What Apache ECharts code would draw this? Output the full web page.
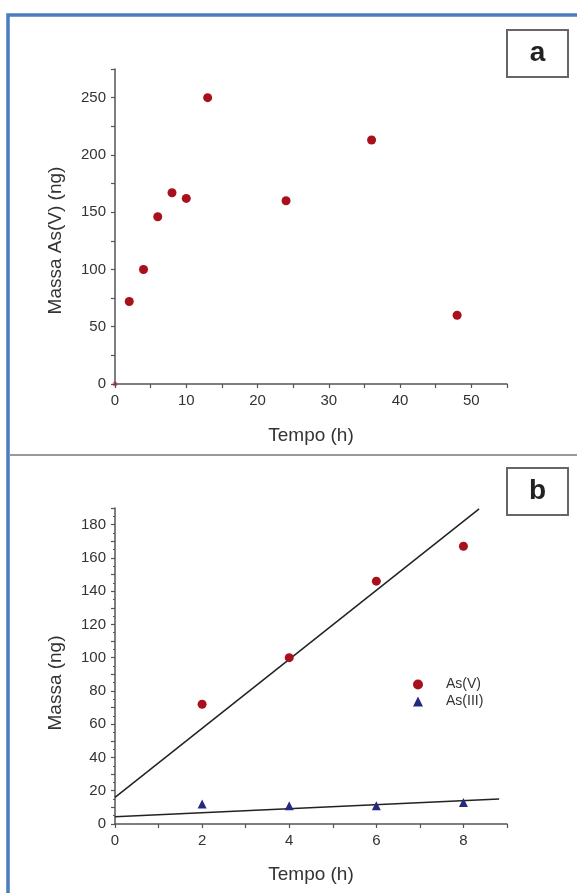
<!DOCTYPE html>
<html>
<head>
<meta charset="utf-8">
<script src="https://cdn.jsdelivr.net/npm/echarts@6/dist/echarts.min.js"></script>
<style>
html,body{margin:0;padding:0;background:#fff;}
#c{width:577px;height:893px;}
</style>
</head>
<body>
<div id="c"></div>
<script>
// ---- Data ----
// Panel a: mass of As(V) vs time
const timeA = [0, 2, 4, 6, 8, 10, 13, 24, 36, 48];
const massAsV_A = [0, 72, 100, 146, 167, 162, 250, 160, 213, 60];

// Panel b: first 8 hours
const timeB = [2, 4, 6, 8];
const massAsV_B = [72, 100, 146, 167];
const massAsIII_B = [12, 11, 11, 13];

// Fitted lines (end points)
const fitAsV_x = [0, 8.36];
const fitAsV_y = [16, 189.5];
const fitAsIII_x = [0, 8.82];
const fitAsIII_y = [4.3, 15.0];

const panelLabels = ['a', 'b'];
const seriesNames = ['As(V)', 'As(III)'];

const zip = (xs, ys) => xs.map((x, i) => [x, ys[i]]);

const FONT = '"Liberation Sans", Arial, sans-serif';
const TXT = '#333';
const AXC = '#555';
const RED = '#a8101c';
const BLUE = '#262a7e';

function xAxis(gridIndex, max, interval, labelEvery, name, gap) {
  return {
    type: 'value', gridIndex, min: 0, max, interval,
    name, nameLocation: 'middle', nameGap: gap,
    nameTextStyle: {fontFamily: FONT, fontSize: 19, color: TXT},
    axisLine: {show: true, onZero: false, lineStyle: {color: AXC, width: 1.5}},
    axisTick: {show: true, inside: false, length: 4, lineStyle: {color: AXC, width: 1.2}},
    axisLabel: {
      fontFamily: FONT, fontSize: 15, color: TXT, margin: 9,
      formatter: v => (Math.abs(v % labelEvery) < 1e-9 ? String(v) : '')
    },
    splitLine: {show: false}
  };
}
function yAxis(gridIndex, max, interval, labelEvery, name, gap, shift, minor) {
  return {
    type: 'value', gridIndex, min: 0, max, interval,
    name, nameLocation: 'middle', nameGap: gap, nameRotate: 90,
    nameTextStyle: {fontFamily: FONT, fontSize: 19, color: TXT, padding: [0, shift, 0, 0]},
    axisLine: {show: true, onZero: false, lineStyle: {color: AXC, width: 1.5}},
    axisTick: {show: true, inside: false, length: 4, lineStyle: {color: AXC, width: 1.2}},
    minorTick: {show: !!minor, splitNumber: minor || 2, length: 2, lineStyle: {color: AXC, width: 1}},
    axisLabel: {
      fontFamily: FONT, fontSize: 15, color: TXT, margin: 9,
      formatter: v => (Math.abs(v % labelEvery) < 1e-9 ? String(v) : '')
    },
    splitLine: {show: false}
  };
}

// the origin point of panel a is barely visible in the reference (sits on the axes)
const dataA = zip(timeA, massAsV_A).map(p =>
  (p[0] === 0 && p[1] === 0) ? {value: p, symbolSize: 5, itemStyle: {opacity: 0.45}} : p);

const chart = echarts.init(document.getElementById('c'), null, {renderer: 'canvas'});

const option = {
  backgroundColor: '#fff',
  animation: false,
  grid: [
    {left: 115, right: 70, top: 69, bottom: 509},
    {left: 115, right: 70, top: 508, bottom: 69}
  ],
  xAxis: [
    xAxis(0, 55, 5, 10, 'Tempo (h)', 42),
    xAxis(1, 9, 1, 2, 'Tempo (h)', 41)
  ],
  yAxis: [
    yAxis(0, 275, 25, 50, 'Massa As(V) (ng)', 50, 28, 0),
    yAxis(1, 190, 10, 20, 'Massa (ng)', 50, 34, 2)
  ],
  legend: {
    show: true,
    data: [
      {name: seriesNames[0], icon: 'circle'},
      {name: seriesNames[1], icon: 'triangle'}
    ],
    orient: 'vertical',
    left: 413, top: 677,
    itemWidth: 10, itemHeight: 10, itemGap: 2,
    padding: 0,
    textStyle: {fontFamily: FONT, fontSize: 14, color: TXT, padding: [0, 0, 0, 18], lineHeight: 15}
  },
  series: [
    {
      name: 'As(V) a', type: 'scatter', xAxisIndex: 0, yAxisIndex: 0,
      data: dataA, symbol: 'circle', symbolSize: 9,
      itemStyle: {color: RED, opacity: 1}
    },
    {
      name: 'fitV', type: 'line', xAxisIndex: 1, yAxisIndex: 1,
      data: zip(fitAsV_x, fitAsV_y), showSymbol: false, symbol: 'none',
      lineStyle: {color: '#222', width: 1.5}
    },
    {
      name: 'fitIII', type: 'line', xAxisIndex: 1, yAxisIndex: 1,
      data: zip(fitAsIII_x, fitAsIII_y), showSymbol: false, symbol: 'none',
      lineStyle: {color: '#222', width: 1.5}
    },
    {
      name: seriesNames[0], type: 'scatter', xAxisIndex: 1, yAxisIndex: 1,
      data: zip(timeB, massAsV_B), symbol: 'circle', symbolSize: 9,
      itemStyle: {color: RED, opacity: 1}, z: 5
    },
    {
      name: seriesNames[1], type: 'scatter', xAxisIndex: 1, yAxisIndex: 1,
      data: zip(timeB, massAsIII_B), symbol: 'triangle', symbolSize: 9,
      itemStyle: {color: BLUE, opacity: 1}, z: 5
    }
  ],
  graphic: [
    {type: 'rect', shape: {x: 8, y: 15, width: 640, height: 940},
     style: {fill: 'none', stroke: '#4a7dbd', lineWidth: 3.5}, z: 100},
    {type: 'line', shape: {x1: 10, y1: 455, x2: 577, y2: 455},
     style: {stroke: '#999', lineWidth: 2}, z: 100},
    {type: 'rect', shape: {x: 507, y: 30, width: 61, height: 47},
     style: {fill: '#fff', stroke: '#666', lineWidth: 2}, z: 100},
    {type: 'text', x: 537.5, y: 53.5,
     style: {text: panelLabels[0], font: 'bold 28px ' + FONT, fill: '#222', align: 'center', verticalAlign: 'middle'}, z: 101},
    {type: 'rect', shape: {x: 507, y: 468, width: 61, height: 47},
     style: {fill: '#fff', stroke: '#666', lineWidth: 2}, z: 100},
    {type: 'text', x: 537.5, y: 491.5,
     style: {text: panelLabels[1], font: 'bold 28px ' + FONT, fill: '#222', align: 'center', verticalAlign: 'middle'}, z: 101}
  ]
};
chart.setOption(option);
</script>
</body>
</html>
